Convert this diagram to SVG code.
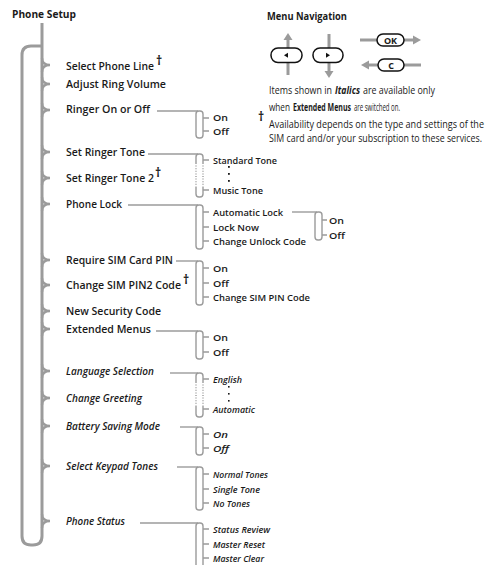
<svg xmlns="http://www.w3.org/2000/svg" width="490" height="565" viewBox="0 0 490 565">
<style>
text{font-family:"Open Sans","Noto Sans","Liberation Sans",sans-serif;fill:#1a1a1a;}
.h{font-size:11px;font-weight:700;}
.m{font-size:11px;font-weight:600;}
.s{font-size:9.5px;font-weight:600;}
.i{font-style:italic;}
.n{font-size:10.5px;font-weight:400;}
.d{font-size:12px;font-weight:700;}
.ln{stroke:#9b9b9b;stroke-width:3;fill:none;}
.tip{stroke:#9b9b9b;stroke-width:2.4;fill:none;stroke-linejoin:miter;}
.br{stroke:#9b9b9b;stroke-width:1.4;fill:none;}
.dot{stroke:#9b9b9b;stroke-width:1.4;fill:none;stroke-dasharray:1 1.6;}
.btn{stroke:#111;stroke-width:1.5;fill:#fff;}
.ar{fill:#9b9b9b;}
</style>

<g id="title"><text class="h" x="12" y="18" textLength="64" lengthAdjust="spacingAndGlyphs">Phone Setup</text></g>

<g id="navigation">
  <text class="h" x="267" y="20" textLength="80" lengthAdjust="spacingAndGlyphs">Menu Navigation</text>
  <line class="ln" x1="288" y1="39" x2="288" y2="48"/>
  <polygon class="ar" points="288,33 283.5,40 292.5,40"/>
  <line class="ln" x1="288" y1="62" x2="288" y2="75"/>
  <rect class="btn" x="271" y="48" width="31" height="14.5" rx="7"/>
  <polygon fill="#111" points="284,55.2 288,52.7 288,57.7"/>
  <line class="ln" x1="329" y1="34" x2="329" y2="48"/>
  <line class="ln" x1="329" y1="62" x2="329" y2="72"/>
  <polygon class="ar" points="329,78 324.5,71 333.5,71"/>
  <rect class="btn" x="313" y="48" width="30" height="14.5" rx="7"/>
  <polygon fill="#111" points="330,55.2 326,52.7 326,57.7"/>
  <line class="ln" x1="360" y1="40" x2="377" y2="40"/>
  <line class="ln" x1="404" y1="40" x2="414" y2="40"/>
  <polygon class="ar" points="421,40 413,35.5 413,44.5"/>
  <rect class="btn" x="377" y="34" width="27" height="12" rx="6"/>
  <text x="390.5" y="43.5" text-anchor="middle" style="font-size:9px;font-weight:700">OK</text>
  <line class="ln" x1="367" y1="65" x2="378" y2="65"/>
  <polygon class="ar" points="361,65 369,60.5 369,69.5"/>
  <line class="ln" x1="404" y1="65" x2="421" y2="65"/>
  <rect class="btn" x="378" y="59" width="26" height="12" rx="6"/>
  <text x="391" y="68.5" text-anchor="middle" style="font-size:9px;font-weight:700">C</text>
</g>

<g id="legend">
  <text class="n" x="269" y="94" textLength="63" lengthAdjust="spacingAndGlyphs">Items shown in</text>
  <text class="n" x="335" y="94" style="font-weight:700;font-style:italic" textLength="25" lengthAdjust="spacingAndGlyphs">Italics</text>
  <text class="n" x="363" y="94" textLength="72" lengthAdjust="spacingAndGlyphs">are available only</text>
  <text class="n" x="269" y="111" textLength="21" lengthAdjust="spacingAndGlyphs">when</text>
  <text class="n" x="293" y="111" style="font-weight:700" textLength="58" lengthAdjust="spacingAndGlyphs">Extended Menus</text>
  <text class="n" x="354" y="111" textLength="46" lengthAdjust="spacingAndGlyphs">are switched on.</text>
  <text class="d" x="258" y="121">†</text>
  <text class="n" x="269" y="128" textLength="215" lengthAdjust="spacingAndGlyphs">Availability depends on the type and settings of the</text>
  <text class="n" x="269" y="142" textLength="213" lengthAdjust="spacingAndGlyphs">SIM card and/or your subscription to these services.</text>
</g>

<g id="connectors">
  <path class="ln" d="M42,23 V536"/>
  <path class="ln" d="M42,46 H31 Q22,46 22,55 V536 Q22,545 31,545 H33 Q42,545 42,536"/>
  <g class="tip">
    <path d="M42,58 Q42,65 50,65 Q42,65 42,72"/>
    <path d="M42,77 Q42,84 50,84 Q42,84 42,91"/>
    <path d="M42,103 Q42,110 50,110 Q42,110 42,117"/>
    <path d="M42,145 Q42,152 50,152 Q42,152 42,159"/>
    <path d="M42,171 Q42,178 50,178 Q42,178 42,185"/>
    <path d="M42,197 Q42,204 50,204 Q42,204 42,211"/>
    <path d="M42,253 Q42,260 50,260 Q42,260 42,267"/>
    <path d="M42,278 Q42,285 50,285 Q42,285 42,292"/>
    <path d="M42,304 Q42,311 50,311 Q42,311 42,318"/>
    <path d="M42,322 Q42,329 50,329 Q42,329 42,336"/>
    <path d="M42,364 Q42,371 50,371 Q42,371 42,378"/>
    <path d="M42,391 Q42,398 50,398 Q42,398 42,405"/>
    <path d="M42,419 Q42,426 50,426 Q42,426 42,433"/>
    <path d="M42,459 Q42,466 50,466 Q42,466 42,473"/>
    <path d="M42,514 Q42,521 50,521 Q42,521 42,528"/>
  </g>
  <g class="br">
    <line x1="157" y1="111" x2="198" y2="111"/>
    <line x1="148" y1="154" x2="198" y2="154"/>
    <line x1="128" y1="205" x2="198" y2="205"/>
    <line x1="292" y1="212" x2="317" y2="212"/>
    <line x1="176" y1="261" x2="198" y2="261"/>
    <line x1="156" y1="331" x2="198" y2="331"/>
    <line x1="170" y1="373" x2="198" y2="373"/>
    <line x1="180" y1="427" x2="198" y2="427"/>
    <line x1="177" y1="467" x2="198" y2="467"/>
    <line x1="140" y1="523" x2="198" y2="523"/>
  </g>
</g>

<g id="item-select-phone-line"><text class="m" x="66" y="70" textLength="88" lengthAdjust="spacingAndGlyphs">Select Phone Line</text><text class="d" x="156" y="65">†</text></g>
<g id="item-adjust-ring-volume"><text class="m" x="66" y="88" textLength="100" lengthAdjust="spacingAndGlyphs">Adjust Ring Volume</text></g>

<g id="item-ringer-on-off">
  <text class="m" x="66" y="113" textLength="84" lengthAdjust="spacingAndGlyphs">Ringer On or Off</text>
  <path class="br" d="M196,135 V114 Q196,111 199,111 H200 Q203,111 203,114 V135 Q203,138 200,138 H199 Q196,138 196,135 Z M203,118 H209 M203,131 H209"/>
  <text class="s" x="213" y="121" textLength="15" lengthAdjust="spacingAndGlyphs">On</text>
  <text class="s" x="213" y="135" textLength="16" lengthAdjust="spacingAndGlyphs">Off</text>
</g>

<g id="item-set-ringer-tone">
  <text class="m" x="66" y="156" textLength="79" lengthAdjust="spacingAndGlyphs">Set Ringer Tone</text>
  <path class="br" d="M196,163 V157 Q196,154 199,154 H200 Q203,154 203,157 V163 M196,187 V194 Q196,197 199,197 H200 Q203,197 203,194 V187 M203,160 H209 M203,190 H209"/>
  <path class="dot" d="M196,163 V187 M203,163 V187"/>
  <g fill="#1a1a1a"><rect x="228" y="166" width="1.8" height="1.8"/><rect x="228" y="173" width="1.8" height="1.8"/><rect x="228" y="180" width="1.8" height="1.8"/></g>
  <text class="s" x="213" y="163.5" textLength="64" lengthAdjust="spacingAndGlyphs">Standard Tone</text>
  <text class="s" x="213" y="193.5" textLength="50" lengthAdjust="spacingAndGlyphs">Music Tone</text>
</g>
<g id="item-set-ringer-tone-2"><text class="m" x="66" y="182" textLength="88" lengthAdjust="spacingAndGlyphs">Set Ringer Tone 2</text><text class="d" x="155" y="177">†</text></g>

<g id="item-phone-lock">
  <text class="m" x="66" y="208" textLength="56" lengthAdjust="spacingAndGlyphs">Phone Lock</text>
  <path class="br" d="M196,246 V208 Q196,205 199,205 H200 Q203,205 203,208 V246 Q203,249 200,249 H199 Q196,249 196,246 Z M203,212 H209 M203,227 H209 M203,241 H209"/>
  <text class="s" x="213" y="215.5" textLength="70" lengthAdjust="spacingAndGlyphs">Automatic Lock</text>
  <text class="s" x="213" y="230.5" textLength="46" lengthAdjust="spacingAndGlyphs">Lock Now</text>
  <text class="s" x="213" y="244.5" textLength="93" lengthAdjust="spacingAndGlyphs">Change Unlock Code</text>
  <path class="br" d="M315,237 V215 Q315,212 318,212 H319 Q322,212 322,215 V237 Q322,240 319,240 H318 Q315,240 315,237 Z M322,220 H327 M322,235 H327"/>
  <text class="s" x="329" y="223.5" textLength="15" lengthAdjust="spacingAndGlyphs">On</text>
  <text class="s" x="329" y="238.5" textLength="16" lengthAdjust="spacingAndGlyphs">Off</text>
</g>

<g id="item-require-sim-pin">
  <text class="m" x="66" y="264" textLength="107" lengthAdjust="spacingAndGlyphs">Require SIM Card PIN</text>
  <path class="br" d="M196,302 V264 Q196,261 199,261 H200 Q203,261 203,264 V302 Q203,305 200,305 H199 Q196,305 196,302 Z M203,268 H209 M203,283 H209 M203,297 H209"/>
  <text class="s" x="213" y="271.5" textLength="15" lengthAdjust="spacingAndGlyphs">On</text>
  <text class="s" x="213" y="286.5" textLength="16" lengthAdjust="spacingAndGlyphs">Off</text>
  <text class="s" x="213" y="300.5" textLength="97" lengthAdjust="spacingAndGlyphs">Change SIM PIN Code</text>
</g>
<g id="item-change-sim-pin2"><text class="m" x="66" y="289" textLength="115" lengthAdjust="spacingAndGlyphs">Change SIM PIN2 Code</text><text class="d" x="183" y="284">†</text></g>
<g id="item-new-security-code"><text class="m" x="66" y="315" textLength="95" lengthAdjust="spacingAndGlyphs">New Security Code</text></g>

<g id="item-extended-menus">
  <text class="m" x="66" y="333" textLength="85" lengthAdjust="spacingAndGlyphs">Extended Menus</text>
  <path class="br" d="M196,356 V334 Q196,331 199,331 H200 Q203,331 203,334 V356 Q203,359 200,359 H199 Q196,359 196,356 Z M203,337 H209 M203,352 H209"/>
  <text class="s" x="213" y="340.5" textLength="15" lengthAdjust="spacingAndGlyphs">On</text>
  <text class="s" x="213" y="355.5" textLength="16" lengthAdjust="spacingAndGlyphs">Off</text>
</g>

<g id="item-language-selection">
  <text class="m i" x="66" y="375" textLength="88" lengthAdjust="spacingAndGlyphs">Language Selection</text>
  <path class="br" d="M196,382 V376 Q196,373 199,373 H200 Q203,373 203,376 V382 M196,406 V414 Q196,417 199,417 H200 Q203,417 203,414 V406 M203,379 H209 M203,409 H209"/>
  <path class="dot" d="M196,382 V406 M203,382 V406"/>
  <g fill="#1a1a1a"><rect x="228" y="386" width="1.6" height="1.6"/><rect x="228" y="393" width="1.6" height="1.6"/><rect x="228" y="400" width="1.6" height="1.6"/></g>
  <text class="s i" x="213" y="382.5" textLength="29" lengthAdjust="spacingAndGlyphs">English</text>
  <text class="s i" x="213" y="412.5" textLength="42" lengthAdjust="spacingAndGlyphs">Automatic</text>
</g>
<g id="item-change-greeting"><text class="m i" x="66" y="402" textLength="76" lengthAdjust="spacingAndGlyphs">Change Greeting</text></g>

<g id="item-battery-saving">
  <text class="m i" x="66" y="430" textLength="94" lengthAdjust="spacingAndGlyphs">Battery Saving Mode</text>
  <path class="br" d="M196,452 V430 Q196,427 199,427 H200 Q203,427 203,430 V452 Q203,455 200,455 H199 Q196,455 196,452 Z M203,434 H209 M203,448 H209"/>
  <text class="s i" x="213" y="437.5" textLength="15" lengthAdjust="spacingAndGlyphs">On</text>
  <text class="s i" x="213" y="451.5" textLength="16" lengthAdjust="spacingAndGlyphs">Off</text>
</g>

<g id="item-keypad-tones">
  <text class="m i" x="66" y="470" textLength="92" lengthAdjust="spacingAndGlyphs">Select Keypad Tones</text>
  <path class="br" d="M196,507 V470 Q196,467 199,467 H200 Q203,467 203,470 V507 Q203,510 200,510 H199 Q196,510 196,507 Z M203,474 H209 M203,489 H209 M203,503 H209"/>
  <text class="s i" x="213" y="477.5" textLength="55" lengthAdjust="spacingAndGlyphs">Normal Tones</text>
  <text class="s i" x="213" y="492.5" textLength="47" lengthAdjust="spacingAndGlyphs">Single Tone</text>
  <text class="s i" x="213" y="506.5" textLength="37" lengthAdjust="spacingAndGlyphs">No Tones</text>
</g>

<g id="item-phone-status">
  <text class="m i" x="66" y="525" textLength="59" lengthAdjust="spacingAndGlyphs">Phone Status</text>
  <path class="br" d="M196,570 V526 Q196,523 199,523 H200 Q203,523 203,526 V570 M203,529 H209 M203,544 H209 M203,558 H209"/>
  <text class="s i" x="213" y="532.5" textLength="57" lengthAdjust="spacingAndGlyphs">Status Review</text>
  <text class="s i" x="213" y="547.5" textLength="52" lengthAdjust="spacingAndGlyphs">Master Reset</text>
  <text class="s i" x="213" y="561.5" textLength="51" lengthAdjust="spacingAndGlyphs">Master Clear</text>
</g>
</svg>
